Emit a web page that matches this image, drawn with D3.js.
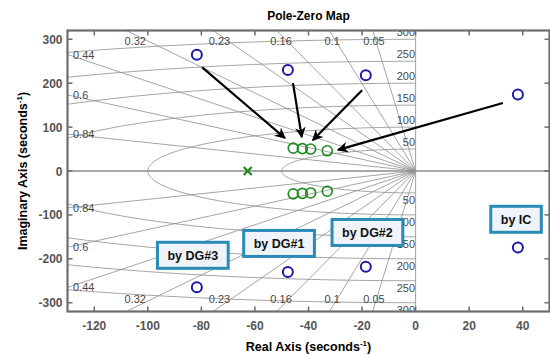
<!DOCTYPE html>
<html>
<head>
<meta charset="utf-8">
<script src="https://cdn.jsdelivr.net/npm/d3@7"></script>
<style>
  body { margin: 0; background: #fff; }
  svg { display: block; font-family: "Liberation Sans", Arial, sans-serif; }
</style>
</head>
<body>
<svg id="chart" width="550" height="354"></svg>
<script>
// pole/zero data (seconds^-1)
const poles = [
  { re: -81.7, im: 265 }, { re: -81.7, im: -265 },
  { re: -47.7, im: 230 }, { re: -47.7, im: -230 },
  { re: -18.6, im: 218 }, { re: -18.6, im: -218 },
  { re: 38.2, im: 174 }, { re: 38.2, im: -174 }
];
const zeros = [
  { re: -45.7, im: 52 }, { re: -45.7, im: -52 },
  { re: -42.3, im: 51 }, { re: -42.3, im: -51 },
  { re: -39.2, im: 50 }, { re: -39.2, im: -50 },
  { re: -33.0, im: 46 }, { re: -33.0, im: -46 }
];
const crossPoles = [{ re: -62.7, im: 0 }];

// sgrid values
const dampings = [0.05, 0.1, 0.16, 0.23, 0.32, 0.44, 0.6, 0.84];
const naturalFreqs = [50, 100, 150, 200, 250, 300];

const xTicks = [-120, -100, -80, -60, -40, -20, 0, 20, 40];
const yTicks = [-300, -200, -100, 0, 100, 200, 300];

// annotations
const arrows = [
  { from: [-79.7, 236], to: [-48.8, 75] },
  { from: [-45.8, 200], to: [-42.5, 77] },
  { from: [-20.0, 184], to: [-38.4, 70] },
  { from: [32.6, 155], to: [-29.0, 48] }
];
const boxes = [
  { text: "by DG#3", re: -83.2, im: -192 },
  { text: "by DG#1", re: -51.0, im: -165 },
  { text: "by DG#2", re: -18.0, im: -140 },
  { text: "by IC", re: 37.5, im: -110 }
];

const svg = d3.select("#chart");
const mLeft = 67.5, mRight = 549.5, mTop = 30.5, mBottom = 311.5;

const x = d3.scaleLinear().domain([-130, 50]).range([mLeft, mRight]);
const y = d3.scaleLinear().domain([-320, 320]).range([mBottom, mTop]);

const defs = svg.append("defs");
defs.append("clipPath").attr("id", "plot-clip")
  .append("rect")
  .attr("x", mLeft).attr("y", mTop)
  .attr("width", mRight - mLeft).attr("height", mBottom - mTop);

defs.append("marker")
  .attr("id", "head")
  .attr("viewBox", "0 0 10 10")
  .attr("refX", 9).attr("refY", 5)
  .attr("markerWidth", 5.5).attr("markerHeight", 5)
  .attr("markerUnits", "strokeWidth")
  .attr("orient", "auto")
  .append("path")
  .attr("d", "M0,0 L10,5 L0,10 L3,5 Z")
  .attr("fill", "#000");

const grid = svg.append("g").attr("clip-path", "url(#plot-clip)");

// damping lines
const lineGen = d3.line().x(d => x(d[0])).y(d => y(d[1]));
dampings.forEach(z => {
  const t = Math.sqrt(1 - z * z) / z;
  const k = 400;
  grid.append("path")
    .attr("d", lineGen([[-k, k * t], [0, 0], [-k, -k * t]]))
    .attr("fill", "none")
    .attr("stroke", "#8e8e8e")
    .attr("stroke-width", 0.8);
});

// natural frequency half circles
naturalFreqs.forEach(w => {
  const pts = d3.range(0, 181, 2).map(a => {
    const th = Math.PI / 2 + a * Math.PI / 180;
    return [w * Math.cos(th), w * Math.sin(th)];
  });
  grid.append("path")
    .attr("d", lineGen(pts))
    .attr("fill", "none")
    .attr("stroke", "#8e8e8e")
    .attr("stroke-width", 0.8);
});

// real and imaginary axes
grid.append("line")
  .attr("x1", mLeft).attr("x2", mRight).attr("y1", y(0)).attr("y2", y(0))
  .attr("stroke", "#8c8c8c").attr("stroke-width", 1.4);
grid.append("line")
  .attr("x1", x(0)).attr("x2", x(0)).attr("y1", mTop).attr("y2", mBottom)
  .attr("stroke", "#a0a0a0").attr("stroke-width", 1);

// damping and frequency labels
const labels = svg.append("g").attr("clip-path", "url(#plot-clip)")
  .attr("font-size", 11).attr("fill", "#484848");
dampings.forEach(z => {
  const t = Math.sqrt(1 - z * z) / z;
  const label = String(z);
  if (320 / t < 130) {
    const px = x(-310 / t);
    labels.append("text").attr("x", px).attr("y", mTop + 14.5)
      .attr("text-anchor", "middle").text(label);
    labels.append("text").attr("x", px).attr("y", mBottom - 8.5)
      .attr("text-anchor", "middle").text(label);
  } else {
    const im = 130 * t;
    labels.append("text").attr("x", mLeft + 5.5).attr("y", y(im) + 4)
      .text(label);
    labels.append("text").attr("x", mLeft + 5.5).attr("y", y(-im) + 4)
      .text(label);
  }
});
naturalFreqs.forEach(w => {
  labels.append("text").attr("x", x(0) - 0.5).attr("y", y(w) - 3)
    .attr("text-anchor", "end").text(w);
  labels.append("text").attr("x", x(0) - 0.5).attr("y", y(-w) + 11)
    .attr("text-anchor", "end").text(w);
});

// axes frame and ticks
const frame = svg.append("g");
const tickLen = 5;
xTicks.forEach(v => {
  frame.append("line").attr("x1", x(v)).attr("x2", x(v))
    .attr("y1", mBottom).attr("y2", mBottom - tickLen)
    .attr("stroke", "#6b6b6b").attr("stroke-width", 1.5);
  frame.append("line").attr("x1", x(v)).attr("x2", x(v))
    .attr("y1", mTop).attr("y2", mTop + tickLen)
    .attr("stroke", "#6b6b6b").attr("stroke-width", 1.5);
  frame.append("text").attr("x", x(v)).attr("y", mBottom + 18)
    .attr("text-anchor", "middle").attr("font-size", 12).attr("font-weight", "bold")
    .attr("fill", "#555").text(v);
});
yTicks.forEach(v => {
  frame.append("line").attr("x1", mLeft).attr("x2", mLeft + tickLen)
    .attr("y1", y(v)).attr("y2", y(v))
    .attr("stroke", "#6b6b6b").attr("stroke-width", 1.5);
  frame.append("line").attr("x1", mRight).attr("x2", mRight - tickLen)
    .attr("y1", y(v)).attr("y2", y(v))
    .attr("stroke", "#6b6b6b").attr("stroke-width", 1.5);
  frame.append("text").attr("x", mLeft - 5).attr("y", y(v) + 4.5)
    .attr("text-anchor", "end").attr("font-size", 12).attr("font-weight", "bold")
    .attr("fill", "#555").text(v);
});
frame.append("rect")
  .attr("x", mLeft).attr("y", mTop)
  .attr("width", mRight - mLeft).attr("height", mBottom - mTop)
  .attr("fill", "none").attr("stroke", "#6e6e6e").attr("stroke-width", 2.2);

// marks
const marks = svg.append("g").attr("clip-path", "url(#plot-clip)");
marks.selectAll("circle.pole").data(poles).join("circle")
  .attr("class", "pole")
  .attr("cx", d => x(d.re)).attr("cy", d => y(d.im)).attr("r", 5)
  .attr("fill", "none").attr("stroke", "#1a1aa6").attr("stroke-width", 2);
marks.selectAll("circle.zero").data(zeros).join("circle")
  .attr("class", "zero")
  .attr("cx", d => x(d.re)).attr("cy", d => y(d.im)).attr("r", 5)
  .attr("fill", "none").attr("stroke", "#1e8a1e").attr("stroke-width", 1.6);
marks.selectAll("path.cross").data(crossPoles).join("path")
  .attr("class", "cross")
  .attr("d", d => {
    const cx = x(d.re), cy = y(d.im), s = 4;
    return `M${cx - s},${cy - s}L${cx + s},${cy + s}M${cx - s},${cy + s}L${cx + s},${cy - s}`;
  })
  .attr("stroke", "#1e8a1e").attr("stroke-width", 2.2);

// arrows
svg.append("g").selectAll("line").data(arrows).join("line")
  .attr("x1", d => x(d.from[0])).attr("y1", d => y(d.from[1]))
  .attr("x2", d => x(d.to[0])).attr("y2", d => y(d.to[1]))
  .attr("stroke", "#000").attr("stroke-width", 2.2)
  .attr("marker-end", "url(#head)");

// text boxes
const boxG = svg.append("g").selectAll("g").data(boxes).join("g")
  .attr("transform", d => `translate(${x(d.re)},${y(d.im)})`);
boxG.append("rect").attr("class", "bg");
boxG.append("text")
  .attr("text-anchor", "middle").attr("y", 4.5)
  .attr("font-size", 12.5).attr("font-weight", "bold").attr("fill", "#111")
  .text(d => d.text);
boxG.each(function () {
  const g = d3.select(this);
  const bb = g.select("text").node().getBBox();
  const padX = 10, h = 26;
  g.select("rect")
    .attr("x", -bb.width / 2 - padX).attr("y", -h / 2)
    .attr("width", bb.width + 2 * padX).attr("height", h)
    .attr("fill", "#eef4f9").attr("stroke", "#2a8bb7").attr("stroke-width", 3);
});

// titles
svg.append("text").attr("x", (mLeft + mRight) / 2).attr("y", 20)
  .attr("text-anchor", "middle").attr("font-size", 12).attr("font-weight", "bold")
  .text("Pole-Zero Map");

const xl = svg.append("text").attr("x", (mLeft + mRight) / 2).attr("y", 351)
  .attr("text-anchor", "middle").attr("font-size", 12.5).attr("font-weight", "bold");
xl.append("tspan").text("Real Axis (seconds");
xl.append("tspan").attr("dy", -5).attr("font-size", 8).text("-1");
xl.append("tspan").attr("dy", 5).text(")");

const yl = svg.append("text")
  .attr("transform", `translate(27,${(mTop + mBottom) / 2}) rotate(-90)`)
  .attr("text-anchor", "middle").attr("font-size", 12.5).attr("font-weight", "bold");
yl.append("tspan").text("Imaginary Axis (seconds");
yl.append("tspan").attr("dy", -5).attr("font-size", 8).text("-1");
yl.append("tspan").attr("dy", 5).text(")");
</script>
</body>
</html>
